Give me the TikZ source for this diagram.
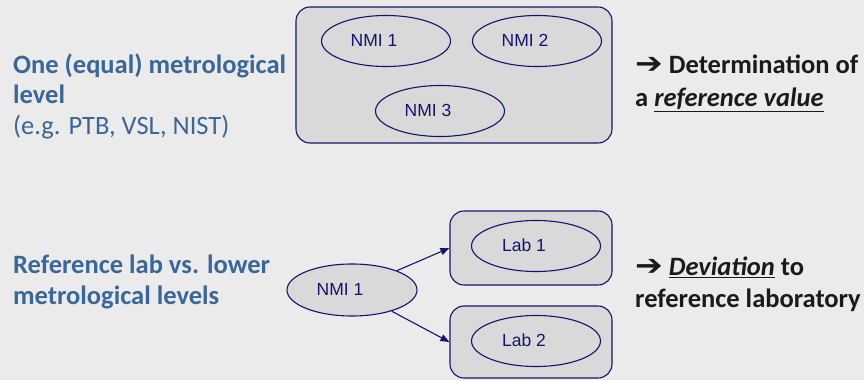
\documentclass[tikz,border=0pt]{standalone}
\usepackage{fontspec}
\usepackage{graphicx}
\setmainfont{Carlito}
\newfontfamily\arialfont{Liberation Sans}
\newfontfamily\symfont{DejaVu Sans}
\usetikzlibrary{arrows.meta,shapes.geometric}
\definecolor{bgcol}{HTML}{EBEBEB}
\definecolor{boxfill}{HTML}{D9D9D9}
\definecolor{navy}{HTML}{14146E}
\definecolor{headblue}{HTML}{3B6698}
\definecolor{bodyblack}{HTML}{1A1A1A}
\tikzset{
  group/.style={draw=navy, fill=boxfill, rounded corners=14pt, line width=1.1pt},
  member/.style={ellipse, draw=navy, fill=boxfill, line width=1.1pt,
    minimum width=129pt, minimum height=51pt, inner sep=0pt,
    text=navy, font=\arialfont\fontsize{17.5}{20}\selectfont},
  heading/.style={anchor=north west, align=left, inner sep=0pt, text=headblue,
    font=\fontsize{26.5}{30.5}\selectfont},
  remark/.style={anchor=north west, align=left, inner sep=0pt, text=bodyblack,
    font=\fontsize{26.5}{32.5}\selectfont\bfseries},
  link/.style={draw=navy, line width=1.1pt, -{Triangle[length=9pt,width=7pt]}}
}
% labels inside the ellipses sit a little left of centre
\newcommand{\inlabel}[1]{\raisebox{1.5pt}{#1}\kern24pt}
\newcommand{\heavyarrow}{\scalebox{1.25}[1.1]{\symfont\bfseries\char"2794}}
\begin{document}
\begin{tikzpicture}[x=1pt,y=-1pt]
  % canvas
  \fill[bgcol] (0,0) rectangle (864,380);
  \useasboundingbox (0,0) rectangle (864,380);

  % upper row: three NMIs on one level
  \draw[group] (296,7) rectangle (612,143);
  \node[member] (nmiA) at (386,41) {\inlabel{NMI 1}};
  \node[member] (nmiB) at (537,41) {\inlabel{NMI 2}};
  \node[member] (nmiC) at (440,111) {\inlabel{NMI 3}};

  \node[heading] (topleft) at (13,53.5) {\textbf{One (equal) metrological}\\\textbf{level}\\(e.g. PTB, VSL, NIST)};
  \node[remark] (topright) at (635,55) {\heavyarrow{} Determination of\\a \underline{\textit{reference value}}};

  % lower row: reference lab and two labs
  \node[group, minimum width=162pt, minimum height=74pt, inner sep=0pt] (labboxA) at (531,248) {};
  \node[group, minimum width=162pt, minimum height=72pt, inner sep=0pt] (labboxB) at (531,342) {};
  \node[member] (labA) at (536,246) {\inlabel{Lab 1}};
  \node[member] (labB) at (536,341) {\inlabel{Lab 2}};
  \node[member, minimum width=130pt, minimum height=52pt] (refnmi) at (352,290) {\inlabel{NMI 1}};

  \draw[link] (refnmi) -- (labboxA.west);
  \draw[link] (refnmi) -- (labboxB.west);

  \node[heading, font=\fontsize{26.5}{30.5}\selectfont\bfseries] (bottomleft) at (13,255) {Reference lab vs. lower\\metrological levels};
  \node[remark] (bottomright) at (635,256.5) {\heavyarrow{} \underline{\textit{Deviation}} to\\reference laboratory};
\end{tikzpicture}
\end{document}
